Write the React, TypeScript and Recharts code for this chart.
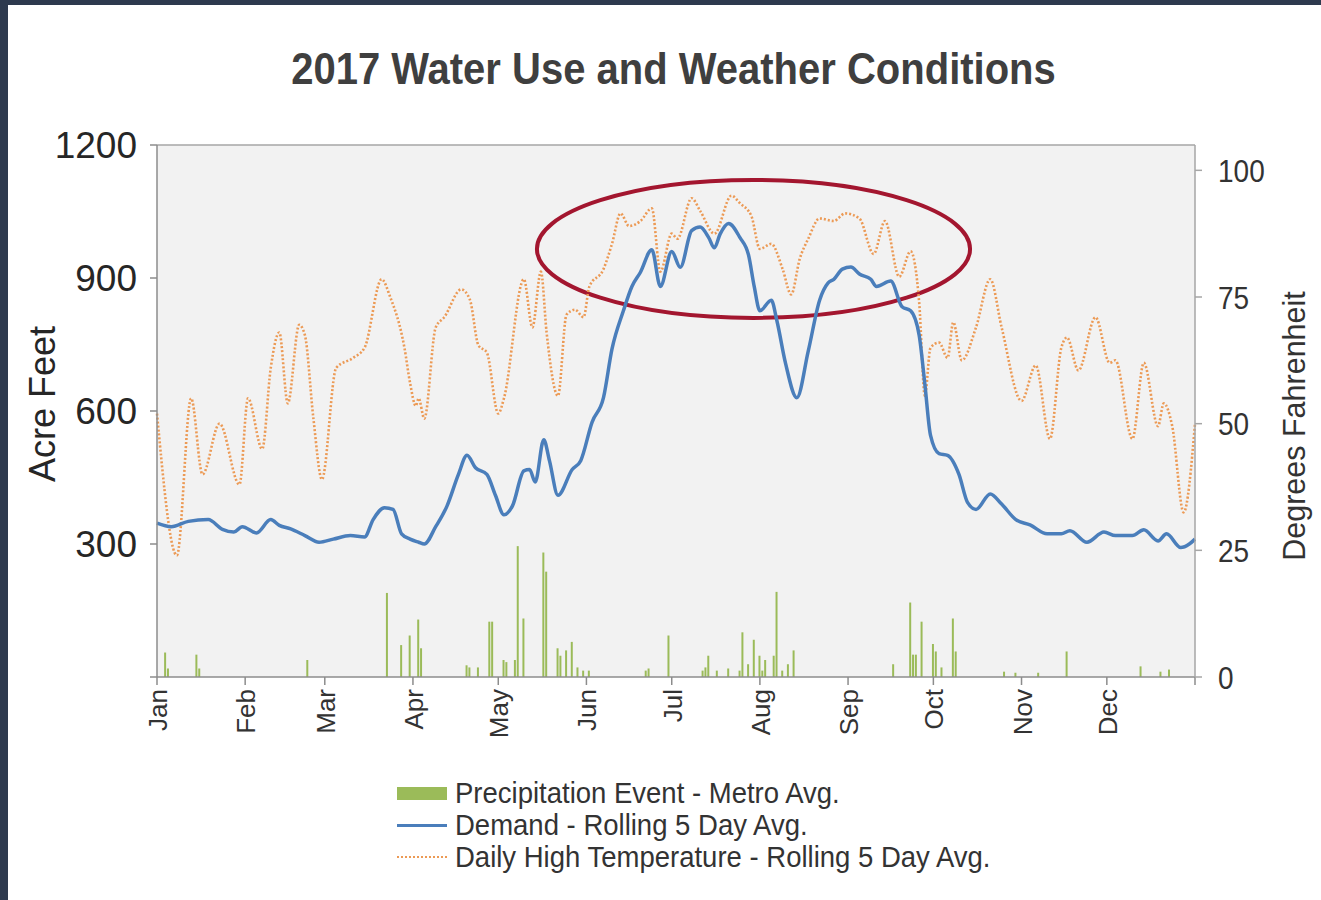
import {
  Bar,
  CartesianGrid,
  ComposedChart,
  Line,
  ReferenceArea,
  XAxis,
  YAxis,
} from "recharts";

const FONT = "'Liberation Sans', Arial, sans-serif";

const MONTHS = ["Jan", "Feb", "Mar", "Apr", "May", "Jun", "Jul", "Aug", "Sep", "Oct", "Nov", "Dec"];
const MONTH_START_DAYS = [0, 31, 59, 90, 120, 151, 181, 212, 243, 273, 304, 334];
const DEMAND_TICKS = [0, 300, 600, 900, 1200];
const TEMP_TICKS = [0, 25, 50, 75, 100];

// Daily high temperature, rolling 5 day avg (deg F)
const tempDays = [
  0, 7, 12, 16, 22, 29, 32, 37, 40, 43, 46, 50, 52, 55, 58, 63, 69, 73, 79, 82, 87, 89, 91, 92, 94,
  98, 101, 107, 110, 113, 116, 120, 122, 129, 132, 135, 137, 141, 144, 147, 150, 152, 157, 160, 163,
  166, 170, 174, 177, 181, 183, 188, 191, 196, 202, 205, 209, 212, 216, 220, 223, 226, 229, 233, 238,
  242, 247, 252, 256, 261, 265, 268, 270, 272, 275, 278, 280, 283, 288, 293, 297, 304, 309, 314, 318,
  320, 324, 330, 335, 337, 343, 347, 352, 354, 357, 361, 365,
];
const tempValues = [
  52, 24, 55, 40, 50, 38, 55, 45, 61, 68, 54, 69.5, 67.5, 51, 39, 61, 63, 65, 78.5, 75, 65, 58, 53.5, 55, 51,
  69, 71, 76.5, 74.5, 65.5, 64, 52, 55, 78.5, 69, 80, 68, 55.5, 71.5, 72.5, 71, 77, 80.5, 85.5, 91.5,
  89, 90, 92.5, 80, 87.5, 86.5, 94.5, 92, 87.5, 95, 93.5, 91, 84.5, 85.5, 80.5, 75.5, 82.5, 86.5, 90.5, 90,
  91.5, 90.5, 83.5, 90, 79, 84, 74, 55.5, 65, 66, 63, 70, 62.5, 69, 78.5, 69, 54.5, 61.5, 47, 65,
  67, 60.5, 71, 62, 62.5, 47, 62, 49.5, 54, 49.5, 32.5, 50,
];

// Demand, rolling 5 day avg (acre feet)
const demandDays = [
  0, 5, 11, 18, 23, 27, 30, 35, 40, 43, 47, 52, 57, 62, 68, 73, 76, 80, 83, 86, 89, 92, 94, 98, 102,
  106, 109, 112, 116, 119, 122, 125, 129, 131, 133, 136, 138, 141, 146, 149, 153, 157, 160, 164, 167,
  170, 174, 177, 181, 184, 188, 191, 194, 196, 198, 201, 205, 208, 210, 212, 216, 218, 221, 225, 229,
  233, 236, 238, 241, 244, 247, 251, 253, 258, 262, 265, 268, 270, 272, 275, 278, 282, 285, 288, 293,
  297, 302, 307, 313, 318, 321, 327, 333, 337, 343, 347, 352, 355, 360, 363, 365,
];
const demandValues = [
  347, 339, 351, 355, 333, 327, 339, 325, 355, 342, 334, 319, 304, 311, 319, 316, 355, 382, 378, 323, 311, 304, 300, 339, 386,
  457, 500, 472, 457, 410, 366, 386, 465, 468, 440, 535, 488, 410, 468, 488, 575, 630, 740, 826, 881,
  913, 964, 881, 960, 924, 1007, 1015, 991, 968, 999, 1023, 991, 952, 881, 826, 850, 803, 708, 630, 735,
  850, 889, 897, 920, 925, 909, 897, 881, 893, 835, 826, 771, 661, 545, 504, 500, 457, 394, 378, 413,
  390, 355, 343, 323, 323, 330, 304, 327, 319, 319, 332, 307, 323, 292, 300, 311,
];

// Precipitation events, metro avg (inches)
const rainDays = [
  3, 4, 14, 15, 53, 81, 86, 89, 92, 93, 109, 110, 113, 117, 118, 122, 123, 126, 127, 129, 136, 137,
  141, 142, 144, 146, 148, 150, 152, 172, 173, 180, 192, 193, 194, 197, 201, 205, 206, 208, 210, 212,
  213, 214, 217, 218, 220, 222, 224, 259, 265, 266, 267, 269, 273, 274, 276, 280, 281, 298, 302, 310,
  320, 346, 353, 356,
];
const rainValues = [
  0.23, 0.08, 0.21, 0.08, 0.16, 0.79, 0.3, 0.39, 0.54, 0.27, 0.11, 0.09, 0.09, 0.52, 0.52, 0.16, 0.14, 0.16, 1.23, 0.55, 1.17, 0.99,
  0.27, 0.2, 0.25, 0.33, 0.09, 0.06, 0.06, 0.06, 0.08, 0.39, 0.06, 0.09, 0.2, 0.06, 0.08, 0.06, 0.42, 0.12, 0.35, 0.2,
  0.06, 0.16, 0.2, 0.8, 0.06, 0.12, 0.25, 0.12, 0.7, 0.21, 0.21, 0.52, 0.31, 0.24, 0.09, 0.55, 0.24, 0.05, 0.04, 0.04,
  0.24, 0.1, 0.05, 0.07,
];

// the red ring drawn round the summer peak (day / acre-feet extents)
const HIGHLIGHT = { x1: 133.6, x2: 285.9, y1: 810, y2: 1121 };

type Row = { day: number; temp?: number; demand?: number; rain?: number };

function buildRows(): Row[] {
  const byDay = new Map<number, Row>();
  const row = (d: number) => {
    let r = byDay.get(d);
    if (!r) {
      r = { day: d };
      byDay.set(d, r);
    }
    return r;
  };
  tempDays.forEach((d, i) => (row(d).temp = tempValues[i]));
  demandDays.forEach((d, i) => (row(d).demand = demandValues[i]));
  rainDays.forEach((d, i) => (row(d).rain = rainValues[i]));
  return [...byDay.values()].sort((a, b) => a.day - b.day);
}

const rows = buildRows();

function MonthTick(props: any) {
  const { x, y, payload } = props;
  const i = MONTH_START_DAYS.indexOf(payload.value);
  if (i < 0) return <g />;
  return (
    <text
      transform={`translate(${x + 10},${y + 2}) rotate(-90)`}
      textAnchor="end"
      fontSize={26}
      fontFamily={FONT}
      fill="#333"
    >
      {MONTHS[i]}
    </text>
  );
}

function DemandTick(props: any) {
  const { x, y, payload } = props;
  if (payload.value === 0) return <g />;
  return (
    <text x={x - 11} y={y} dy="0.36em" textAnchor="end" fontSize={37} fontFamily={FONT} fill="#262626">
      {payload.value}
    </text>
  );
}

function TempTick(props: any) {
  const { x, y, payload } = props;
  return (
    <text
      transform={`translate(${x + 14},${y}) scale(1,1.15)`}
      dy="0.36em"
      fontSize={28}
      fontFamily={FONT}
      fill="#333"
    >
      {payload.value}
    </text>
  );
}

function Ring(props: any) {
  const { x, y, width, height } = props;
  return (
    <ellipse
      cx={x + width / 2}
      cy={y + height / 2}
      rx={width / 2}
      ry={height / 2}
      fill="none"
      stroke="#a3162f"
      strokeWidth={4}
    />
  );
}

function LegendRow({ swatch, text }: { swatch: React.ReactNode; text: string }) {
  return (
    <div style={{ display: "flex", alignItems: "center", height: 32 }}>
      <div style={{ width: 50, marginRight: 8, display: "flex", alignItems: "center" }}>{swatch}</div>
      <span
        style={{
          fontSize: 27.5,
          color: "#333",
          display: "inline-block",
          transform: "scaleY(1.1)",
          whiteSpace: "nowrap",
        }}
      >
        {text}
      </span>
    </div>
  );
}

export default function App() {
  return (
    <div
      style={{
        position: "absolute",
        left: 0,
        top: 0,
        width: 1321,
        height: 900,
        background: "#2e3a4e",
        fontFamily: FONT,
        overflow: "hidden",
      }}
    >
      <div style={{ position: "absolute", left: 8, top: 5, right: 0, bottom: 0, background: "#fff" }} />

      <div
        style={{
          position: "absolute",
          left: 0,
          top: 48,
          width: 1347,
          textAlign: "center",
          fontSize: 40,
          lineHeight: "40px",
          fontWeight: 700,
          color: "#3f3f3f",
          transform: "scaleY(1.12)",
        }}
      >
        2017 Water Use and Weather Conditions
      </div>

      <div style={{ position: "absolute", left: 0, top: 0 }}>
        <ComposedChart
          width={1321}
          height={900}
          data={rows}
          margin={{ top: 144, right: 46, bottom: 153, left: 97 }}
        >
          <CartesianGrid fill="#f2f2f2" horizontal={false} vertical={false} />
          <XAxis
            dataKey="day"
            type="number"
            domain={[0, 365]}
            ticks={[...MONTH_START_DAYS, 365]}
            interval={0}
            height={70}
            tick={<MonthTick />}
            tickSize={8}
            axisLine={{ stroke: "#8c8c8c", strokeWidth: 1.5 }}
            tickLine={{ stroke: "#8c8c8c", strokeWidth: 1.5 }}
          />
          <XAxis
            xAxisId="top"
            orientation="top"
            type="number"
            domain={[0, 365]}
            height={1}
            tick={false}
            tickLine={false}
            axisLine={{ stroke: "#a6a6a6", strokeWidth: 1.5 }}
          />
          <YAxis
            yAxisId="demand"
            domain={[0, 1200]}
            ticks={DEMAND_TICKS}
            interval={0}
            width={60}
            tick={<DemandTick />}
            tickSize={7}
            axisLine={{ stroke: "#8c8c8c", strokeWidth: 1.5 }}
            tickLine={{ stroke: "#8c8c8c", strokeWidth: 1.5 }}
          />
          <YAxis
            yAxisId="temp"
            orientation="right"
            domain={[0, 105]}
            ticks={TEMP_TICKS}
            interval={0}
            width={80}
            tick={<TempTick />}
            tickSize={7}
            axisLine={{ stroke: "#a6a6a6", strokeWidth: 1.5 }}
            tickLine={{ stroke: "#a6a6a6", strokeWidth: 1.5 }}
          />
          <YAxis yAxisId="rain" domain={[0, 5]} hide />
          <Bar
            yAxisId="rain"
            dataKey="rain"
            fill="#9bbb59"
            barSize={2}
            isAnimationActive={false}
          />
          <Line
            yAxisId="temp"
            dataKey="temp"
            type="monotone"
            stroke="#ec9a55"
            strokeWidth={2.6}
            strokeDasharray="2 2"
            dot={false}
            connectNulls
            isAnimationActive={false}
          />
          <Line
            yAxisId="demand"
            dataKey="demand"
            type="monotone"
            stroke="#4a7ebb"
            strokeWidth={3.5}
            dot={false}
            connectNulls
            isAnimationActive={false}
          />
          <ReferenceArea
            yAxisId="demand"
            x1={HIGHLIGHT.x1}
            x2={HIGHLIGHT.x2}
            y1={HIGHLIGHT.y1}
            y2={HIGHLIGHT.y2}
            shape={<Ring />}
          />
        </ComposedChart>
      </div>

      <div
        style={{
          position: "absolute",
          left: 43,
          top: 404,
          transform: "translate(-50%,-50%) rotate(-90deg)",
          fontSize: 36,
          color: "#262626",
          whiteSpace: "nowrap",
        }}
      >
        Acre Feet
      </div>
      <div
        style={{
          position: "absolute",
          left: 1294,
          top: 426,
          transform: "translate(-50%,-50%) rotate(-90deg)",
          fontSize: 30.5,
          color: "#333",
          whiteSpace: "nowrap",
        }}
      >
        Degrees Fahrenheit
      </div>

      <div style={{ position: "absolute", left: 397, top: 777 }}>
        <LegendRow
          swatch={<div style={{ width: 50, height: 13, background: "#9bbb59" }} />}
          text="Precipitation Event - Metro Avg."
        />
        <LegendRow
          swatch={<div style={{ width: 50, height: 3, background: "#4a7ebb" }} />}
          text="Demand - Rolling 5 Day Avg."
        />
        <LegendRow
          swatch={<div style={{ width: 50, borderTop: "2px dotted #ec9a55" }} />}
          text="Daily High Temperature - Rolling 5 Day Avg."
        />
      </div>
    </div>
  );
}
